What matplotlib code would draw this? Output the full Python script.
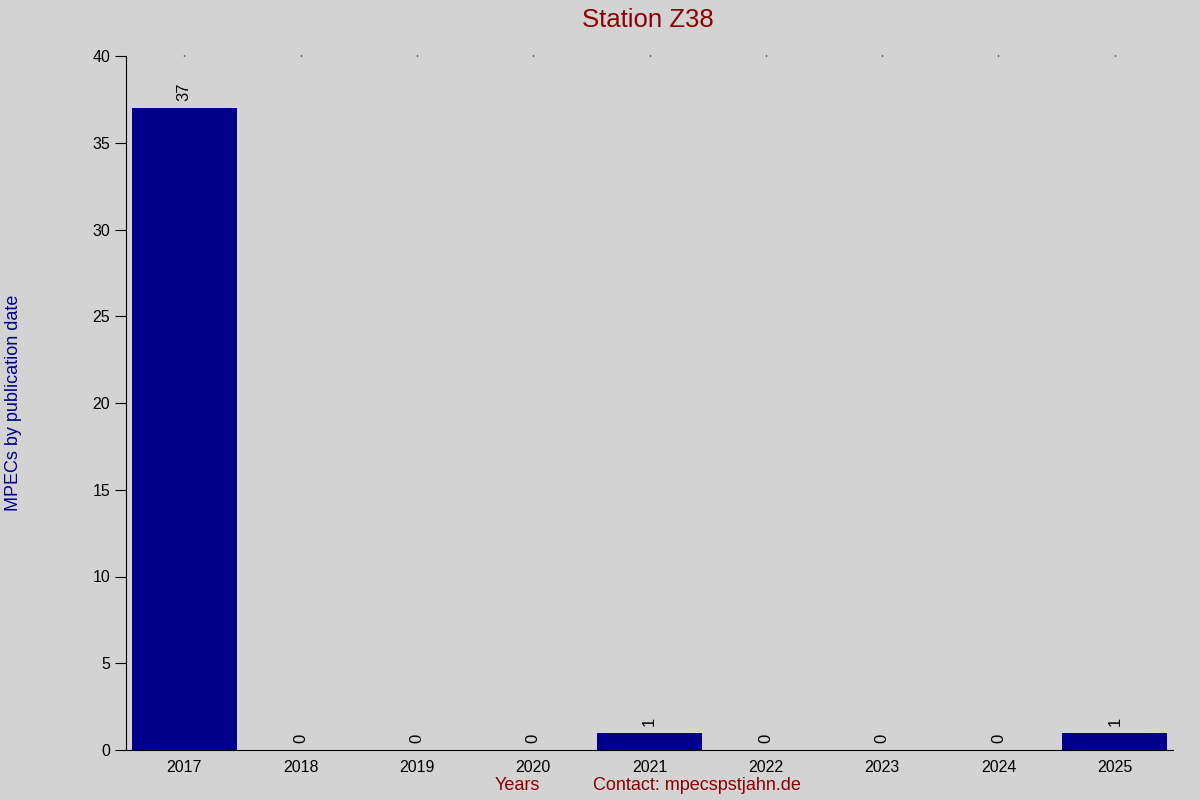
import matplotlib
matplotlib.use('Agg')
import matplotlib.pyplot as plt

annees = ['2017', '2018', '2019', '2020', '2021', '2022', '2023', '2024', '2025']
mpecs = [37, 0, 0, 0, 1, 0, 0, 0, 1]

plt.rcParams['font.family'] = ['Liberation Sans', 'DejaVu Sans']

fig = plt.figure(figsize=(12, 8), dpi=100, facecolor='#d3d3d3')
ax = fig.add_axes([0.105, 0.0625, 0.8725, 0.8675], facecolor='#d3d3d3')

x = list(range(len(annees)))
ax.bar(x, mpecs, width=0.9, color='#00008b')

for xi, v in zip(x, mpecs):
    ax.text(xi, v + 0.4, str(v), rotation=90, ha='center', va='bottom', fontsize=12)

ax.set_xlim(-0.5, 8.5)
ax.set_ylim(0, 40)
ax.set_xticks(x)
ax.set_xticklabels(annees, fontsize=11.5)
ax.set_yticks(range(0, 41, 5))
ax.tick_params(axis='y', labelsize=11.5, length=8, direction='out')
ax.tick_params(axis='x', bottom=False, top=True, length=1, width=1, pad=6)

for s in ['top', 'right']:
    ax.spines[s].set_visible(False)

fig.text(0.54, 0.975, 'Station Z38', color='#8b0000', fontsize=18.5, ha='center', va='center')
fig.text(0.011, 0.496, 'MPECs by publication date', color='#00008b', fontsize=13,
         rotation=90, ha='center', va='center')
fig.text(0.431, 0.0175, 'Years', color='#8b0000', fontsize=13, ha='center', va='center')
fig.text(0.581, 0.0175, 'Contact: mpecspstjahn.de', color='#8b0000', fontsize=13,
         ha='center', va='center')

fig.savefig('out.png', dpi=100, facecolor=fig.get_facecolor())
